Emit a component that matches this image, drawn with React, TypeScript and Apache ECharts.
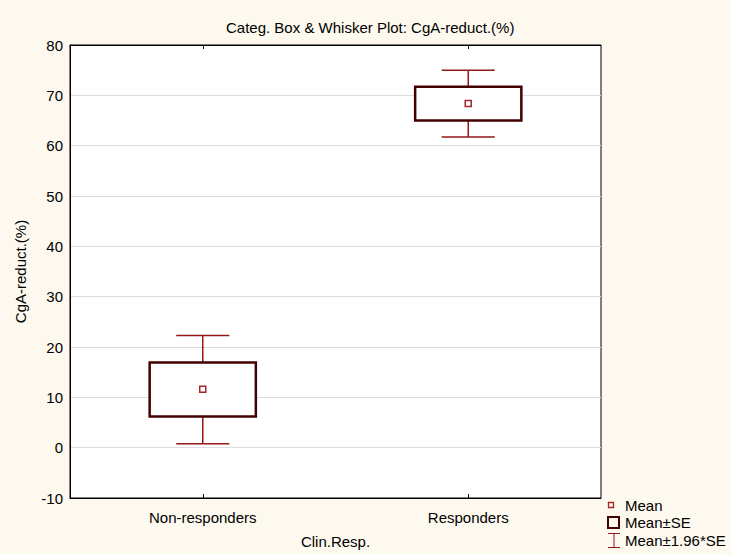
import React, { useEffect, useRef } from "react";
import * as echarts from "echarts";

const categories = ["Non-responders", "Responders"];
const means = [11.6, 68.4];
const seLow = [6.2, 65.0];
const seHigh = [16.9, 71.7];
const ciLow = [0.8, 61.7];
const ciHigh = [22.3, 75.0];
const yTicks = { min: -10, max: 80, interval: 10 };
const legendLabels = ["Mean", "Mean±SE", "Mean±1.96*SE"];

const BG = "#fdf9ef";
const BOX_COLOR = "#420000";
const WHISKER_COLOR = "#951818";
const MEAN_COLOR = "#a3262b";
const FONT = "'Liberation Sans', Arial, sans-serif";

export default function App() {
  const ref = useRef<HTMLDivElement>(null);
  useEffect(() => {
    if (!ref.current) return;
    const chart = echarts.init(ref.current, undefined, { renderer: "svg" });

    const data = categories.map((_, i) => [i, means[i], seLow[i], seHigh[i], ciLow[i], ciHigh[i]]);

    const option: any = {
      animation: false,
      backgroundColor: BG,
      textStyle: { fontFamily: FONT },
      title: {
        text: "Categ. Box & Whisker Plot: CgA-reduct.(%)",
        left: 226,
        top: 20,
        padding: 0,
        textStyle: { fontSize: 15, fontWeight: "normal", color: "#000", fontFamily: FONT },
      },
      grid: { left: 70, right: 130, top: 45, bottom: 52, show: true, borderColor: "#000", borderWidth: 1, backgroundColor: "#fff" },
      xAxis: [
        {
          type: "category",
          data: categories,
          boundaryGap: true,
          name: "Clin.Resp.",
          nameLocation: "middle",
          nameGap: 36,
          nameTextStyle: { fontSize: 15, color: "#000", fontFamily: FONT },
          axisLine: { show: true, onZero: false, lineStyle: { color: "#000" } },
          axisTick: { show: true, inside: true, alignWithLabel: true, length: 4, lineStyle: { color: "#000" } },
          axisLabel: { color: "#000", fontSize: 15, margin: 12, fontFamily: FONT },
        },
        {
          type: "category",
          data: categories,
          position: "top",
          boundaryGap: true,
          axisLine: { show: true, onZero: false, lineStyle: { color: "#000" } },
          axisTick: { show: true, inside: true, alignWithLabel: true, length: 4, lineStyle: { color: "#000" } },
          axisLabel: { show: false },
        },
      ],
      yAxis: {
        type: "value",
        min: yTicks.min,
        max: yTicks.max,
        interval: yTicks.interval,
        name: "CgA-reduct.(%)",
        nameLocation: "middle",
        nameRotate: 90,
        nameGap: 42,
        nameTextStyle: { fontSize: 15, color: "#000", fontFamily: FONT },
        axisLine: { show: true, onZero: false, lineStyle: { color: "#000" } },
        axisTick: { show: false },
        axisLabel: { color: "#000", fontSize: 15, margin: 7, fontFamily: FONT },
        splitLine: { show: true, lineStyle: { color: "#dcdcdc", width: 1 } },
      },
      series: [
        {
          type: "custom",
          name: legendLabels[2],
          data,
          z: 2,
          renderItem: (params: any, api: any) => {
            const idx = api.value(0);
            const band = api.size([1, 0])[0];
            const capHalf = band * 0.1;
            const top = api.coord([idx, api.value(5)]);
            const bot = api.coord([idx, api.value(4)]);
            const boxTop = api.coord([idx, api.value(3)]);
            const boxBot = api.coord([idx, api.value(2)]);
            const x = top[0];
            const st = { stroke: WHISKER_COLOR, lineWidth: 1.5 };
            return {
              type: "group",
              children: [
                { type: "line", shape: { x1: x, y1: top[1], x2: x, y2: boxTop[1] }, style: st },
                { type: "line", shape: { x1: x, y1: boxBot[1], x2: x, y2: bot[1] }, style: st },
                { type: "line", shape: { x1: x - capHalf, y1: top[1], x2: x + capHalf, y2: top[1] }, style: st },
                { type: "line", shape: { x1: x - capHalf, y1: bot[1], x2: x + capHalf, y2: bot[1] }, style: st },
              ],
            };
          },
        },
        {
          type: "custom",
          name: legendLabels[1],
          data,
          z: 3,
          renderItem: (params: any, api: any) => {
            const idx = api.value(0);
            const band = api.size([1, 0])[0];
            const half = band * 0.2;
            const boxTop = api.coord([idx, api.value(3)]);
            const boxBot = api.coord([idx, api.value(2)]);
            const x = boxTop[0];
            return {
              type: "rect",
              shape: { x: x - half, y: boxTop[1], width: half * 2, height: boxBot[1] - boxTop[1] },
              style: { fill: "#fff", stroke: BOX_COLOR, lineWidth: 2.5 },
            };
          },
        },
        {
          type: "custom",
          name: legendLabels[0],
          data,
          z: 4,
          renderItem: (params: any, api: any) => {
            const idx = api.value(0);
            const p = api.coord([idx, api.value(1)]);
            return {
              type: "rect",
              shape: { x: p[0] - 3, y: p[1] - 3, width: 6, height: 6 },
              style: { fill: "#fff", stroke: MEAN_COLOR, lineWidth: 1.5 },
            };
          },
        },
      ],
      graphic: [
        { type: "rect", x: 608.5, y: 502.5, shape: { width: 5, height: 5 }, style: { fill: "none", stroke: MEAN_COLOR, lineWidth: 1.3 } },
        { type: "text", x: 625, y: 505, style: { text: legendLabels[0], font: `15px ${FONT}`, fill: "#000", verticalAlign: "middle" } },
        { type: "rect", x: 608, y: 517, shape: { width: 11, height: 11 }, style: { fill: "none", stroke: BOX_COLOR, lineWidth: 2 } },
        { type: "text", x: 625, y: 522, style: { text: legendLabels[1], font: `15px ${FONT}`, fill: "#000", verticalAlign: "middle" } },
        { type: "line", shape: { x1: 608, y1: 533.5, x2: 620, y2: 533.5 }, style: { stroke: WHISKER_COLOR, lineWidth: 1 } },
        { type: "line", shape: { x1: 614, y1: 533.5, x2: 614, y2: 547.5 }, style: { stroke: WHISKER_COLOR, lineWidth: 1 } },
        { type: "line", shape: { x1: 608, y1: 547.5, x2: 620, y2: 547.5 }, style: { stroke: WHISKER_COLOR, lineWidth: 1 } },
        { type: "text", x: 625, y: 540, style: { text: legendLabels[2], font: `15px ${FONT}`, fill: "#000", verticalAlign: "middle" } },
      ],
    };
    chart.setOption(option);
    return () => chart.dispose();
  }, []);
  return <div ref={ref} style={{ position: "absolute", left: 0, top: 0, width: 731, height: 554 }} />;
}
